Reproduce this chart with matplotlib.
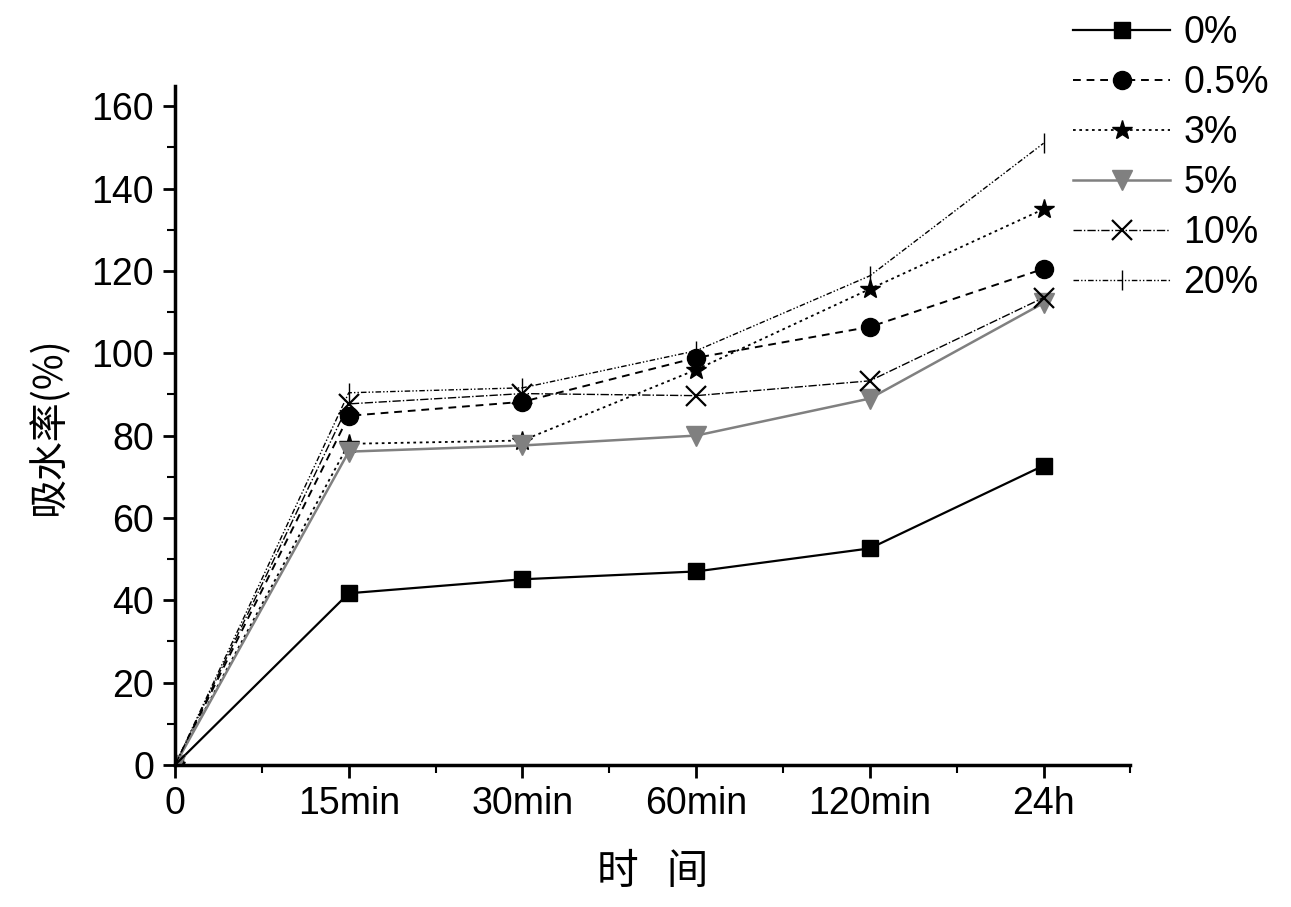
import matplotlib
matplotlib.use('Agg')
import matplotlib.pyplot as plt
from matplotlib.ticker import MultipleLocator

# x categories
time_labels = ['0', '15min', '30min', '60min', '120min', '24h']

# water absorption (%) per additive content
s_0 = [0, 41.7, 45.1, 47.0, 52.6, 72.7]
s_05 = [0, 84.8, 88.2, 98.9, 106.4, 120.5]
s_3 = [0, 78.0, 78.8, 96.0, 115.6, 135.0]
s_5 = [0, 76.1, 77.6, 80.0, 89.0, 112.2]
s_10 = [0, 87.7, 90.2, 89.7, 93.3, 113.5]
s_20 = [0, 90.4, 91.6, 100.6, 118.8, 151.0]

series_names = ['0%', '0.5%', '3%', '5%', '10%', '20%']

plt.rcParams['font.family'] = ['Liberation Sans', 'Noto Sans CJK SC', 'DejaVu Sans']

fig = plt.figure(figsize=(12.91, 9.07), dpi=100)
ax = fig.add_axes([0.1356, 0.1566, 0.740, 0.749])

x = list(range(len(time_labels)))
ax.plot(x, s_0, color='black', linestyle='-', linewidth=1.6, marker='s', markersize=11, label=series_names[0])
ax.plot(x, s_05, color='black', linestyle=(0, (4, 3)), linewidth=1.4, marker='o', markersize=13, label=series_names[1])
ax.plot(x, s_3, color='black', linestyle=(0, (1.5, 2)), linewidth=1.3, marker='*', markersize=15, label=series_names[2])
ax.plot(x, s_5, color='#808080', linestyle='-', linewidth=1.8, marker='v', markersize=14, label=series_names[3])
ax.plot(x, s_10, color='black', linestyle=(0, (6, 1.5, 1, 1.5)), linewidth=1.0, marker='x', markersize=14,
        markeredgewidth=1.6, label=series_names[4])
ax.plot(x, s_20, color='black', linestyle=(0, (4, 1.5, 1, 1.5, 1, 1.5)), linewidth=1.0, marker='|', markersize=15,
        markeredgewidth=1.0, label=series_names[5])

ax.set_xlim(0, 5.5)
ax.set_ylim(0, 165)
ax.set_xticks(x)
ax.set_xticklabels(time_labels)
ax.xaxis.set_minor_locator(MultipleLocator(0.5))
ax.yaxis.set_major_locator(MultipleLocator(20))
ax.yaxis.set_minor_locator(MultipleLocator(10))

for side in ['top', 'right']:
    ax.spines[side].set_visible(False)
for side in ['left', 'bottom']:
    ax.spines[side].set_linewidth(2.5)

ax.tick_params(which='major', direction='out', length=9, width=2, labelsize=27, pad=6)
ax.tick_params(which='minor', direction='out', length=6, width=1.5)

ax.set_xlabel('时   间', fontsize=30, family=['Noto Sans CJK SC'], labelpad=22)
ax.set_ylabel('吸水率(%)', fontsize=28, family=['Noto Sans CJK SC'], labelpad=16)

ax.legend(loc='upper left', bbox_to_anchor=(0.831, 0.983), bbox_transform=fig.transFigure,
          frameon=False, fontsize=27, handlelength=2.6, handletextpad=0.35, labelspacing=0.37,
          borderaxespad=0, borderpad=0)

fig.savefig('out.png', dpi=100)
